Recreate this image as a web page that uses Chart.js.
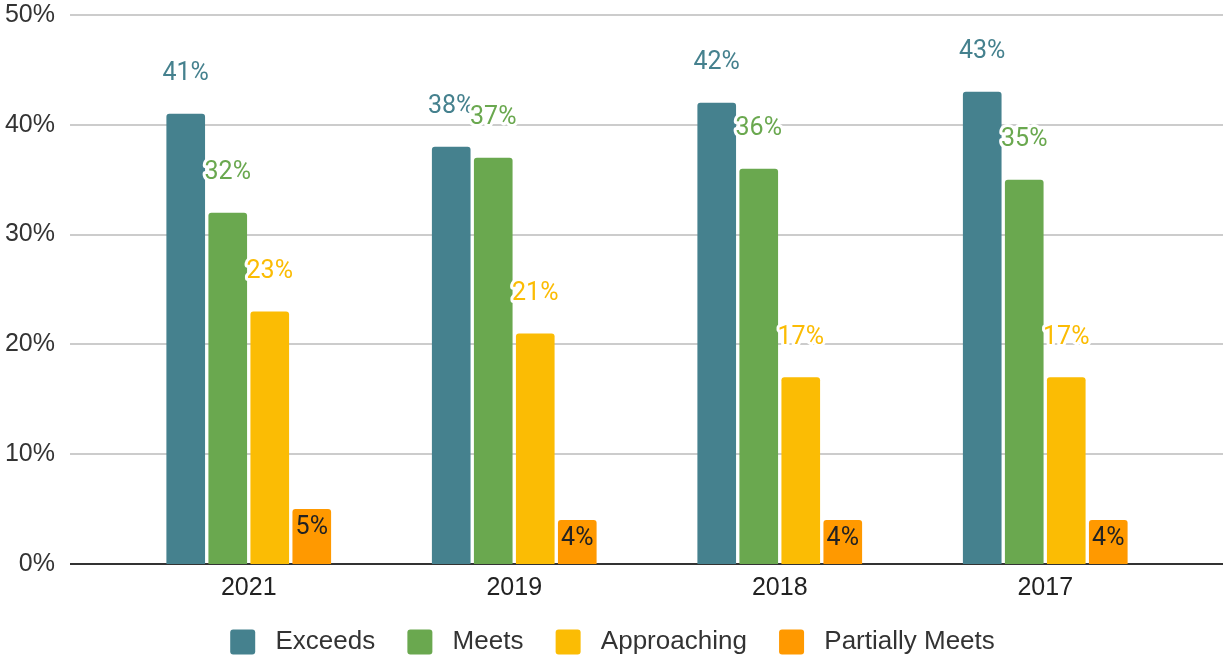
<!DOCTYPE html>
<html>
<head>
<meta charset="utf-8">
<script src="https://cdn.jsdelivr.net/npm/chart.js@4"></script>
<style>
  html, body { margin: 0; padding: 0; background: #fff; }
  #wrap { width: 1225px; height: 656px; position: relative; }
</style>
</head>
<body>
<div id="wrap"><canvas id="chart"></canvas></div>
<script>
// data
const categories = ["2021", "2019", "2018", "2017"];
const exceeds = [41, 38, 42, 43];
const meets = [32, 37, 36, 35];
const approaching = [23, 21, 17, 17];
const partiallyMeets = [5, 4, 4, 4];
const yMax = 50;
const yStep = 10;

const colors = {
  exceeds: "#45818e",
  meets: "#6aa84f",
  approaching: "#fbbc04",
  partially: "#ff9900",
};

// full width grid lines and the dark baseline
const gridPlugin = {
  id: "wideGrid",
  beforeDatasetsDraw(chart) {
    const ctx = chart.ctx;
    const y = chart.scales.y;
    ctx.save();
    y.ticks.forEach((t) => {
      const py = Math.round(y.getPixelForValue(t.value));
      ctx.beginPath();
      ctx.strokeStyle = t.value === 0 ? "#333333" : "#cccccc";
      ctx.lineWidth = 2;
      ctx.moveTo(70, py);
      ctx.lineTo(1223, py);
      ctx.stroke();
    });
    ctx.restore();
  },
};

// value labels above bars (inside for the last series)
const labelPlugin = {
  id: "valueLabels",
  afterDatasetsDraw(chart) {
    const ctx = chart.ctx;
    ctx.save();
    ctx.font = "25px Roboto";
    ctx.textAlign = "center";
    ctx.textBaseline = "middle";
    ctx.lineJoin = "round";
    chart.data.datasets.forEach((ds, i) => {
      const meta = chart.getDatasetMeta(i);
      meta.data.forEach((bar, j) => {
        const text = ds.data[j] + "%";
        if (i === 3) {
          ctx.fillStyle = "#222222";
          ctx.fillText(text, bar.x, bar.y + 19);
        } else {
          const ty = bar.y - 40;
          ctx.strokeStyle = "#ffffff";
          ctx.lineWidth = 6;
          ctx.strokeText(text, bar.x, ty);
          ctx.fillStyle = ds.backgroundColor;
          ctx.fillText(text, bar.x, ty);
        }
      });
    });
    ctx.restore();
  },
};

const tickFont = { family: "'Liberation Sans', Arial, sans-serif", size: 25 };
const legendFont = { family: "'Liberation Sans', Arial, sans-serif", size: 26 };

new Chart(document.getElementById("chart"), {
  type: "bar",
  data: {
    labels: categories,
    datasets: [
      { label: "Exceeds", data: exceeds, backgroundColor: colors.exceeds },
      { label: "Meets", data: meets, backgroundColor: colors.meets },
      { label: "Approaching", data: approaching, backgroundColor: colors.approaching },
      { label: "Partially Meets", data: partiallyMeets, backgroundColor: colors.partially },
    ],
  },
  options: {
    responsive: true,
    maintainAspectRatio: false,
    animation: false,
    datasets: {
      bar: {
        categoryPercentage: 0.633,
        barPercentage: 0.92,
        borderRadius: 3,
        borderSkipped: "start",
      },
    },
    layout: { padding: { top: 15, left: 0, right: 0, bottom: -9 } },
    scales: {
      x: {
        grid: { display: false, drawTicks: false },
        border: { display: false },
        ticks: { font: tickFont, color: "#222222", padding: 9 },
        afterFit(scale) { scale.height = 40; },
      },
      y: {
        min: 0,
        max: yMax,
        grid: { display: false, drawTicks: true, tickLength: 61 },
        border: { display: false },
        ticks: {
          stepSize: yStep,
          font: tickFont,
          color: "#333333",
          padding: 0,
          callback: (v) => v + "%",
        },
        afterFit(scale) { scale.width = 116; },
      },
      yRight: {
        position: "right",
        min: 0,
        max: yMax,
        grid: { display: false, drawTicks: false },
        border: { display: false },
        ticks: { display: false },
        afterFit(scale) { scale.width = 47; },
      },
    },
    plugins: {
      tooltip: { enabled: false },
      legend: {
        position: "bottom",
        labels: {
          boxWidth: 25,
          boxHeight: 25,
          padding: 25,
          color: "#333333",
          font: legendFont,
          generateLabels(chart) {
            const items = Chart.defaults.plugins.legend.labels.generateLabels(chart);
            return items.map((item, k) => ({
              ...item,
              text: " " + item.text + (k < items.length - 1 ? " " : ""),
              lineWidth: 0,
              borderRadius: 3,
            }));
          },
        },
      },
    },
  },
  plugins: [gridPlugin, labelPlugin],
});
</script>
</body>
</html>
